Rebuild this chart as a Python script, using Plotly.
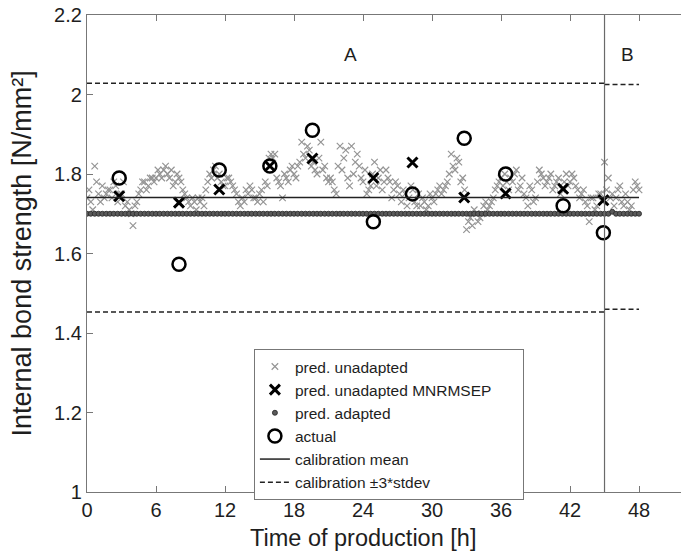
import plotly.graph_objects as go

# ---------------- data ----------------
# predictions of the unadapted model (first sampling grid)
time_h = [0.00, 0.33, 0.67, 1.00, 1.33, 1.67, 2.00, 2.33, 2.67, 3.00, 3.33, 3.67,
          4.00, 4.33, 4.67, 5.00, 5.33, 5.67, 6.00, 6.33, 6.67, 7.00, 7.33, 7.67,
          8.00, 8.33, 8.67, 9.00, 9.33, 9.67, 10.00, 10.33, 10.67, 11.00, 11.33, 11.67,
          12.00, 12.33, 12.67, 13.00, 13.33, 13.67, 14.00, 14.33, 14.67, 15.00, 15.33, 15.67,
          16.00, 16.33, 16.67, 17.00, 17.33, 17.67, 18.00, 18.33, 18.67, 19.00, 19.33, 19.67,
          20.00, 20.33, 20.67, 21.00, 21.33, 21.67, 22.00, 22.33, 22.67, 23.00, 23.33, 23.67,
          24.00, 24.33, 24.67, 25.00, 25.33, 25.67, 26.00, 26.33, 26.67, 27.00, 27.33, 27.67,
          28.00, 28.33, 28.67, 29.00, 29.33, 29.67, 30.00, 30.33, 30.67, 31.00, 31.33, 31.67,
          32.00, 32.33, 32.67, 33.00, 33.33, 33.67, 34.00, 34.33, 34.67, 35.00, 35.33, 35.67,
          36.00, 36.33, 36.67, 37.00, 37.33, 37.67, 38.00, 38.33, 38.67, 39.00, 39.33, 39.67,
          40.00, 40.33, 40.67, 41.00, 41.33, 41.67, 42.00, 42.33, 42.67, 43.00, 43.33, 43.67,
          44.00, 44.33, 44.67, 45.00, 45.33, 45.67, 46.00, 46.33, 46.67, 47.00, 47.33, 47.67,
          48.00]

pred_unadapted = [1.74, 1.73, 1.82, 1.75, 1.77, 1.75, 1.76, 1.78, 1.73, 1.75, 1.72, 1.71,
                  1.67, 1.73, 1.76, 1.78, 1.77, 1.79, 1.79, 1.80, 1.81, 1.80, 1.81, 1.78,
                  1.79, 1.76, 1.74, 1.72, 1.73, 1.74, 1.74, 1.76, 1.80, 1.81, 1.79, 1.78,
                  1.77, 1.79, 1.77, 1.75, 1.72, 1.73, 1.75, 1.76, 1.74, 1.75, 1.73, 1.77,
                  1.85, 1.85, 1.78, 1.74, 1.79, 1.81, 1.80, 1.82, 1.88, 1.84, 1.86, 1.83,
                  1.80, 1.88, 1.82, 1.78, 1.78, 1.75, 1.87, 1.84, 1.79, 1.87, 1.83, 1.82,
                  1.78, 1.75, 1.77, 1.83, 1.79, 1.76, 1.81, 1.78, 1.76, 1.77, 1.73, 1.75,
                  1.74, 1.76, 1.72, 1.72, 1.73, 1.72, 1.74, 1.75, 1.77, 1.76, 1.78, 1.85,
                  1.81, 1.83, 1.79, 1.66, 1.69, 1.71, 1.68, 1.70, 1.73, 1.72, 1.74, 1.77,
                  1.79, 1.80, 1.76, 1.78, 1.81, 1.77, 1.75, 1.72, 1.76, 1.74, 1.81, 1.79,
                  1.78, 1.80, 1.77, 1.79, 1.76, 1.80, 1.78, 1.79, 1.76, 1.75, 1.73, 1.68,
                  1.74, 1.72, 1.75, 1.83, 1.79, 1.75, 1.74, 1.77, 1.72, 1.73, 1.72, 1.78,
                  1.76]

# predictions of the unadapted model (intermediate samples)
time_h2 = [0.17, 0.50, 0.83, 1.17, 1.50, 1.83, 2.17, 2.50, 2.83, 3.17, 3.50, 3.83,
           4.17, 4.50, 4.83, 5.17, 5.50, 5.83, 6.17, 6.50, 6.83, 7.17, 7.50, 7.83,
           8.17, 8.50, 8.83, 9.17, 9.50, 9.83, 10.17, 10.50, 10.83, 11.17, 11.50, 11.83,
           12.17, 12.50, 12.83, 13.17, 13.50, 13.83, 14.17, 14.50, 14.83, 15.17, 15.50, 15.83,
           16.17, 16.50, 16.83, 17.17, 17.50, 17.83, 18.17, 18.50, 18.83, 19.17, 19.50, 19.83,
           20.17, 20.50, 20.83, 21.17, 21.50, 21.83, 22.17, 22.50, 22.83, 23.17, 23.50, 23.83,
           24.17, 24.50, 24.83, 25.17, 25.50, 25.83, 26.17, 26.50, 26.83, 27.17, 27.50, 27.83,
           28.17, 28.50, 28.83, 29.17, 29.50, 29.83, 30.17, 30.50, 30.83, 31.17, 31.50, 31.83,
           32.17, 32.50, 32.83, 33.17, 33.50, 33.83, 34.17, 34.50, 34.83, 35.17, 35.50, 35.83,
           36.17, 36.50, 36.83, 37.17, 37.50, 37.83, 38.17, 38.50, 38.83, 39.17, 39.50, 39.83,
           40.17, 40.50, 40.83, 41.17, 41.50, 41.83, 42.17, 42.50, 42.83, 43.17, 43.50, 43.83,
           44.17, 44.50, 44.83, 45.17, 45.50, 45.83, 46.17, 46.50, 46.83, 47.17, 47.50, 47.83]

pred_unadapted2 = [1.76, 1.71, 1.78, 1.73, 1.74, 1.76, 1.74, 1.77, 1.75, 1.78, 1.73, 1.70,
                   1.72, 1.75, 1.78, 1.76, 1.79, 1.78, 1.81, 1.79, 1.82, 1.79, 1.77, 1.80,
                   1.78, 1.75, 1.73, 1.74, 1.71, 1.73, 1.72, 1.78, 1.79, 1.82, 1.80, 1.77,
                   1.79, 1.78, 1.76, 1.73, 1.74, 1.76, 1.77, 1.74, 1.73, 1.76, 1.78, 1.84,
                   1.84, 1.79, 1.77, 1.80, 1.78, 1.82, 1.79, 1.83, 1.85, 1.87, 1.82, 1.81,
                   1.84, 1.81, 1.79, 1.79, 1.76, 1.82, 1.81, 1.86, 1.77, 1.80, 1.85, 1.79,
                   1.81, 1.76, 1.80, 1.77, 1.81, 1.78, 1.79, 1.74, 1.78, 1.75, 1.76, 1.72,
                   1.77, 1.73, 1.75, 1.74, 1.71, 1.75, 1.73, 1.76, 1.75, 1.77, 1.80, 1.82,
                   1.84, 1.78, 1.76, 1.68, 1.67, 1.70, 1.69, 1.72, 1.71, 1.73, 1.76, 1.78,
                   1.77, 1.78, 1.79, 1.80, 1.76, 1.79, 1.74, 1.77, 1.73, 1.78, 1.80, 1.77,
                   1.79, 1.76, 1.78, 1.75, 1.78, 1.77, 1.80, 1.77, 1.74, 1.76, 1.72, 1.74,
                   1.71, 1.75, 1.73, 1.76, 1.74, 1.72, 1.76, 1.73, 1.75, 1.71, 1.76, 1.77]

# predictions of the adapted model (first sampling grid)
pred_adapted = [
    1.700, 1.700, 1.700, 1.700, 1.700, 1.700, 1.700, 1.700, 1.700, 1.700, 1.700, 1.700,
    1.700, 1.700, 1.700, 1.700, 1.700, 1.700, 1.700, 1.700, 1.700, 1.700, 1.700, 1.700,
    1.700, 1.700, 1.700, 1.700, 1.700, 1.700, 1.700, 1.700, 1.700, 1.700, 1.700, 1.700,
    1.700, 1.700, 1.700, 1.700, 1.700, 1.700, 1.700, 1.700, 1.700, 1.700, 1.700, 1.700,
    1.700, 1.700, 1.700, 1.700, 1.700, 1.700, 1.700, 1.700, 1.700, 1.700, 1.700, 1.700,
    1.700, 1.700, 1.700, 1.700, 1.700, 1.700, 1.700, 1.700, 1.700, 1.700, 1.700, 1.700,
    1.700, 1.700, 1.700, 1.700, 1.700, 1.700, 1.700, 1.700, 1.700, 1.700, 1.700, 1.700,
    1.700, 1.700, 1.700, 1.700, 1.700, 1.700, 1.700, 1.700, 1.700, 1.700, 1.700, 1.700,
    1.700, 1.700, 1.700, 1.700, 1.700, 1.700, 1.700, 1.700, 1.700, 1.700, 1.700, 1.700,
    1.700, 1.700, 1.700, 1.700, 1.700, 1.700, 1.700, 1.700, 1.700, 1.700, 1.700, 1.700,
    1.700, 1.700, 1.700, 1.700, 1.700, 1.700, 1.700, 1.700, 1.700, 1.700, 1.700, 1.700,
    1.700, 1.700, 1.700, 1.700, 1.700, 1.705, 1.700, 1.700, 1.700, 1.700, 1.700, 1.700,
    1.700]

sample_time = [2.8, 8.0, 11.5, 15.9, 19.6, 24.9, 28.3, 32.8, 36.4, 41.4, 44.9]
pred_mnrmsep = [1.744, 1.728, 1.761, 1.820, 1.839, 1.790, 1.829, 1.741, 1.751, 1.763, 1.734]
actual = [1.790, 1.573, 1.810, 1.820, 1.910, 1.680, 1.750, 1.890, 1.800, 1.720, 1.652]

period_start = [0, 45]
period_end = [45, 48]
period_labels = ["A", "B"]
period_label_x = [22.9, 47.0]
period_label_y = 2.1
calib_mean = [1.741, 1.741]
calib_upper = [2.028, 2.025]
calib_lower = [1.453, 1.460]

x_ticks = [0, 6, 12, 18, 24, 30, 36, 42, 48]
y_ticks = [1, 1.2, 1.4, 1.6, 1.8, 2, 2.2]
y_tick_text = ["1", "1.2", "1.4", "1.6", "1.8", "2", "2.2"]

# ---------------- figure ----------------
FONT = "Liberation Sans, Arial, sans-serif"
TXT = "#1e1e1e"
PAD = "\u00a0" * 6   # widens the legend box like the reference
fig = go.Figure()

fig.add_trace(go.Scatter(
    x=time_h + time_h2, y=pred_unadapted + pred_unadapted2, mode="markers",
    name="pred. unadapted",
    marker=dict(symbol="x-thin", size=6.5, color="#959595",
                line=dict(width=1.2, color="#959595"))))

fig.add_trace(go.Scatter(
    x=sample_time, y=pred_mnrmsep, mode="markers", name="pred. unadapted MNRMSEP" + PAD,
    marker=dict(symbol="x-thin", size=10, color="black",
                line=dict(width=3, color="black"))))

fig.add_trace(go.Scatter(
    x=time_h, y=pred_adapted, mode="markers", name="pred. adapted",
    marker=dict(symbol="circle", size=5, color="#5a5a5a",
                line=dict(width=0.9, color="#2e2e2e"))))

fig.add_trace(go.Scatter(
    x=sample_time, y=actual, mode="markers", name="actual",
    marker=dict(symbol="circle-open", size=13, color="black",
                line=dict(width=2.5, color="black"))))

for i in range(len(period_start)):
    fig.add_trace(go.Scatter(
        x=[period_start[i], period_end[i]], y=[calib_mean[i], calib_mean[i]],
        mode="lines", name="calibration mean", showlegend=(i == 0),
        legendgroup="mean", line=dict(color="#222222", width=1.5)))

for i in range(len(period_start)):
    fig.add_trace(go.Scatter(
        x=[period_start[i], period_end[i]], y=[calib_upper[i], calib_upper[i]],
        mode="lines", name="calibration \u00b13*stdev", showlegend=(i == 0),
        legendgroup="sd", line=dict(color="#222222", width=1.5, dash="5px,3px")))
    fig.add_trace(go.Scatter(
        x=[period_start[i], period_end[i]], y=[calib_lower[i], calib_lower[i]],
        mode="lines", name="calibration \u00b13*stdev", showlegend=False,
        legendgroup="sd", line=dict(color="#222222", width=1.5, dash="5px,3px")))

# period separator
fig.add_shape(type="line", xref="x", yref="paper", x0=period_start[1], x1=period_start[1],
              y0=0, y1=1, line=dict(color="#6a6a6a", width=1.2))

for lab, xc in zip(period_labels, period_label_x):
    fig.add_annotation(x=xc, y=period_label_y, text=lab, showarrow=False,
                       font=dict(family=FONT, size=19, color=TXT))

# axis titles as annotations (positioned like the reference)
fig.add_annotation(x=24, xref="x", y=-0.097, yref="paper", yanchor="middle",
                   text="Time of production [h]", showarrow=False,
                   font=dict(family=FONT, size=23.5, color=TXT))
fig.add_annotation(x=-0.1095, xref="paper", xanchor="center", y=0.50, yref="paper",
                   text="Internal bond strength [N/mm\u00b2]", showarrow=False,
                   textangle=-90, font=dict(family=FONT, size=27, color=TXT))

fig.update_layout(
    width=681, height=556,
    margin=dict(l=87, r=0, t=15, b=64),
    plot_bgcolor="white", paper_bgcolor="white",
    font=dict(family=FONT, color=TXT),
    showlegend=True,
    legend=dict(x=0.281, y=0.300, xanchor="left", yanchor="top",
                bgcolor="white", bordercolor="#777777", borderwidth=1,
                font=dict(family=FONT, size=15.5, color=TXT),
                tracegroupgap=0),
    xaxis=dict(range=[0, 51.65], tickvals=x_ticks, ticks="inside", ticklen=6,
               tickcolor="#777777", showline=True, linecolor="#777777", linewidth=1.2,
               mirror="ticks", showgrid=False, zeroline=False,
               tickfont=dict(family=FONT, size=20, color=TXT)),
    yaxis=dict(range=[1, 2.2], tickvals=y_ticks, ticktext=y_tick_text, ticks="inside",
               ticklen=6, tickcolor="#777777", showline=True, linecolor="#777777",
               linewidth=1.2, mirror=False, showgrid=False, zeroline=False,
               tickfont=dict(family=FONT, size=20, color=TXT)),
)

fig.write_html("out.html")
